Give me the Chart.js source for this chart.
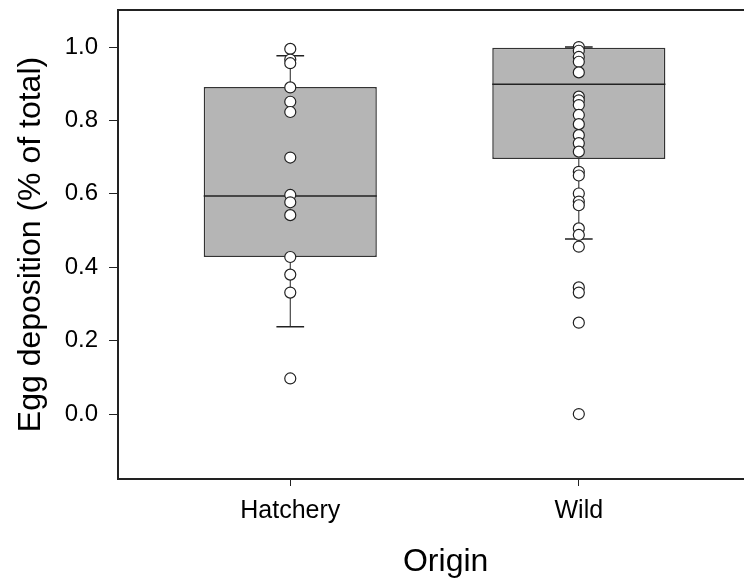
<!DOCTYPE html>
<html>
<head>
<meta charset="utf-8">
<script src="https://cdn.jsdelivr.net/npm/chart.js@4/dist/chart.umd.min.js"></script>
<style>
    html, body { margin: 0; padding: 0; background: #fff; overflow: hidden; }
    #wrap { width: 744px; height: 578px; overflow: hidden; }
</style>
</head>
<body>
<div id="wrap"><canvas id="chart" width="780" height="578"></canvas></div>
<script>
// Egg deposition by origin (box plot with raw points)

const origins = ['Hatchery', 'Wild'];
const originPos = [1, 2];

// box statistics per origin
const boxLow = [0.428, 0.695];
const boxHigh = [0.891, 0.998];
const medians = [0.594, 0.899];
const whiskerLow = [0.238, 0.477];
const whiskerHigh = [0.976, 1.0];

// raw observations
const hatcheryValues = [0.995, 0.966, 0.956, 0.890, 0.851, 0.823, 0.699, 0.597, 0.577, 0.542, 0.428, 0.380, 0.331, 0.097];
const wildValues = [1.0, 0.99, 0.973, 0.96, 0.931, 0.865, 0.855, 0.842, 0.815, 0.79, 0.76, 0.738, 0.715,
    0.66, 0.65, 0.601, 0.579, 0.569, 0.506, 0.488, 0.456, 0.345, 0.331, 0.249, 0.0];

const yTickValues = [0, 0.2, 0.4, 0.6, 0.8, 1.0];

const FONT = "'Liberation Sans', Arial, sans-serif";
const INK = '#222';

const points = [];
hatcheryValues.forEach(v => points.push({ x: originPos[0], y: v }));
wildValues.forEach(v => points.push({ x: originPos[1], y: v }));

// whiskers, caps, medians and the top frame line
const boxExtras = {
    id: 'boxExtras',
    afterDatasetDraw(chart, args) {
        if (args.index !== 1) return;
        const { ctx, scales: { y } } = chart;
        const bars = args.meta.data;
        ctx.save();
        ctx.strokeStyle = INK;
        bars.forEach((bar, i) => {
            const cx = bar.x;
            const half = bar.width / 2;
            const cap = bar.width * 0.08;
            ctx.lineWidth = 1;
            ctx.beginPath();
            ctx.moveTo(cx, y.getPixelForValue(boxHigh[i]));
            ctx.lineTo(cx, y.getPixelForValue(whiskerHigh[i]));
            ctx.moveTo(cx, y.getPixelForValue(boxLow[i]));
            ctx.lineTo(cx, y.getPixelForValue(whiskerLow[i]));
            ctx.stroke();
            ctx.lineWidth = 1.5;
            ctx.beginPath();
            ctx.moveTo(cx - cap, y.getPixelForValue(whiskerHigh[i]));
            ctx.lineTo(cx + cap, y.getPixelForValue(whiskerHigh[i]));
            ctx.moveTo(cx - cap, y.getPixelForValue(whiskerLow[i]));
            ctx.lineTo(cx + cap, y.getPixelForValue(whiskerLow[i]));
            ctx.stroke();
            ctx.beginPath();
            ctx.moveTo(cx - half, y.getPixelForValue(medians[i]));
            ctx.lineTo(cx + half, y.getPixelForValue(medians[i]));
            ctx.stroke();
        });
        ctx.restore();
    },
    afterDraw(chart) {
        const { ctx, chartArea } = chart;
        ctx.save();
        ctx.strokeStyle = INK;
        ctx.lineWidth = 2;
        ctx.beginPath();
        ctx.moveTo(chartArea.left - 1, chartArea.top);
        ctx.lineTo(chartArea.right, chartArea.top);
        ctx.stroke();
        ctx.restore();
    }
};

new Chart(document.getElementById('chart'), {
    type: 'bar',
    data: {
        datasets: [
            {
                type: 'scatter',
                order: 1,
                data: points,
                pointRadius: 5.5,
                pointBackgroundColor: '#fff',
                pointBorderColor: INK,
                pointBorderWidth: 1.2
            },
            {
                type: 'bar',
                order: 2,
                data: originPos.map((x, i) => ({ x: x, y: [boxLow[i], boxHigh[i]] })),
                backgroundColor: '#b5b5b5',
                borderColor: '#333',
                borderWidth: 1.5,
                borderSkipped: false,
                categoryPercentage: 1,
                barPercentage: 0.6
            }
        ]
    },
    options: {
        responsive: false,
        devicePixelRatio: 1,
        animation: false,
        layout: { padding: { top: 10, right: 0, left: 0, bottom: 0 } },
        plugins: { legend: { display: false }, tooltip: { enabled: false } },
        scales: {
            x: {
                type: 'linear',
                offset: false,
                min: 0.403,
                max: 2.674,
                afterBuildTicks: axis => { axis.ticks = originPos.map(v => ({ value: v })); },
                afterFit: axis => {
                    axis.height = 99;
                    axis.paddingLeft = 0;
                    axis.paddingRight = 0;
                },
                ticks: {
                    callback: v => origins[originPos.indexOf(v)] || '',
                    color: '#000',
                    padding: 10,
                    maxRotation: 0,
                    font: { family: FONT, size: 25 }
                },
                grid: { offset: false, drawOnChartArea: false, tickLength: 7, color: INK, tickColor: INK },
                border: { color: INK, width: 2 },
                title: {
                    display: true,
                    text: 'Origin',
                    color: '#000',
                    font: { family: FONT, size: 32, lineHeight: 1 },
                    padding: { top: 0, bottom: 0 }
                }
            },
            y: {
                min: -0.177,
                max: 1.101,
                afterBuildTicks: axis => { axis.ticks = yTickValues.map(v => ({ value: v })); },
                afterFit: axis => {
                    axis.width = 118;
                    axis.paddingTop = 0;
                    axis.paddingBottom = 0;
                },
                ticks: {
                    callback: v => v.toFixed(1),
                    color: '#000',
                    padding: 11,
                    font: { family: FONT, size: 24 }
                },
                grid: { drawOnChartArea: false, tickLength: 9, color: INK, tickColor: INK },
                border: { color: INK, width: 2 },
                title: {
                    display: true,
                    text: 'Egg deposition (% of total)',
                    color: '#000',
                    font: { family: FONT, size: 32, lineHeight: 1 },
                    padding: { top: 15, bottom: 0 }
                }
            }
        }
    },
    plugins: [boxExtras]
});
</script>
</body>
</html>
